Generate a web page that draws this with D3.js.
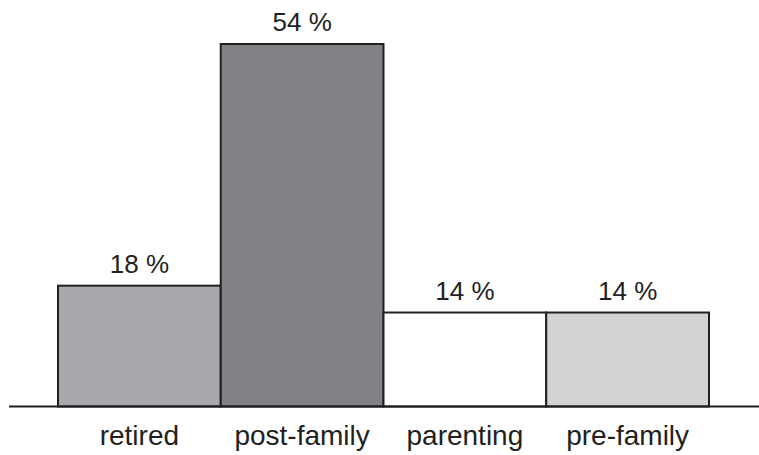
<!DOCTYPE html>
<html>
<head>
<meta charset="utf-8">
<script src="https://cdn.jsdelivr.net/npm/d3@7"></script>
<style>
html,body{margin:0;padding:0;background:#fff;}
svg{display:block;}
text{font-family:"Liberation Sans",Arial,Helvetica,sans-serif;fill:#231f20;}
</style>
</head>
<body>
<svg id="chart" width="759" height="455"></svg>
<script>
const categories = ["retired", "post-family", "parenting", "pre-family"];
const values = [18, 54, 14, 14];
const valueLabels = ["18 %", "54 %", "14 %", "14 %"];
const fills = ["#a7a9ac", "#808285", "#ffffff", "#d1d3d4"];

const svg = d3.select("#chart");
const baseY = 406.5;
const x = d3.scaleBand().domain(categories).range([58, 709]).paddingInner(0).paddingOuter(0);
const y = d3.scaleLinear().domain([0, 54]).range([baseY, 44]);

const data = categories.map((c, i) => ({c, v: values[i], label: valueLabels[i], fill: fills[i]}));

svg.selectAll("rect.bar").data(data).enter().append("rect")
  .attr("class", "bar")
  .attr("x", d => x(d.c))
  .attr("y", d => y(d.v))
  .attr("width", x.bandwidth())
  .attr("height", d => baseY - y(d.v))
  .attr("fill", d => d.fill)
  .attr("stroke", "#231f20")
  .attr("stroke-width", 2);

// baseline axis
svg.append("line")
  .attr("x1", 9).attr("x2", 759)
  .attr("y1", baseY).attr("y2", baseY)
  .attr("stroke", "#231f20").attr("stroke-width", 2);

svg.selectAll("text.val").data(data).enter().append("text")
  .attr("class", "val")
  .attr("x", d => x(d.c) + x.bandwidth() / 2)
  .attr("y", d => y(d.v) - 13)
  .attr("text-anchor", "middle")
  .attr("font-size", 26)
  .text(d => d.label);

svg.selectAll("text.cat").data(data).enter().append("text")
  .attr("class", "cat")
  .attr("x", d => x(d.c) + x.bandwidth() / 2)
  .attr("y", 445)
  .attr("text-anchor", "middle")
  .attr("font-size", 28)
  .text(d => d.c);
</script>
</body>
</html>
